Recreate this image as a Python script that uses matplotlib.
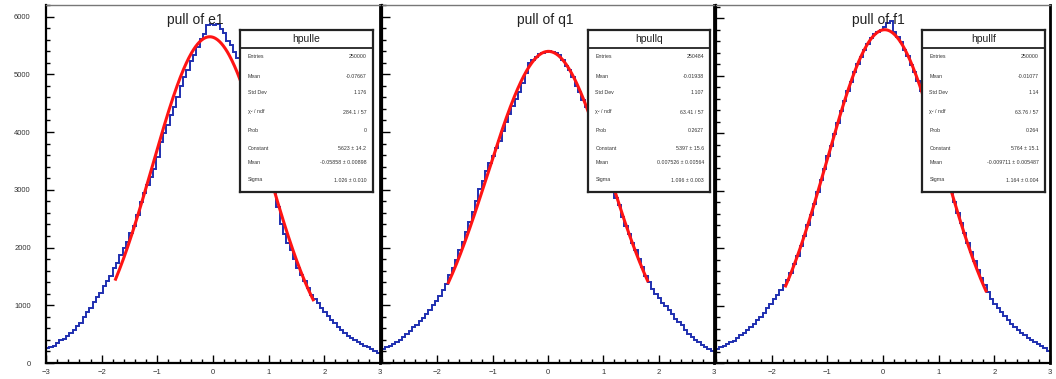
import numpy as np
import matplotlib.pyplot as plt

plt.rcParams['font.family'] = ['Liberation Sans', 'DejaVu Sans']

W, H = 1056, 379

# histogram contents, 100 bins on [-3, 3]
bin_edges = np.linspace(-3, 3, 101)

counts_e1 = [
    255, 280, 300, 350, 400, 420, 470, 520, 570, 640,
    700, 800, 880, 960, 1060, 1150, 1220, 1330, 1420, 1510,
    1640, 1740, 1870, 1990, 2100, 2260, 2380, 2560, 2780, 2940,
    3080, 3220, 3360, 3560, 3820, 3990, 4130, 4300, 4440, 4610,
    4800, 4950, 5080, 5230, 5330, 5480, 5610, 5700, 5860, 5870,
    5850, 5870, 5790, 5720, 5580, 5500, 5380, 5290, 5150, 4980,
    4820, 4650, 4450, 4250, 4020, 3800, 3560, 3230, 2960, 2700,
    2400, 2230, 2080, 1950, 1800, 1640, 1530, 1420, 1300, 1180,
    1110, 1040, 950, 890, 820, 740, 690, 630, 570, 520,
    470, 430, 390, 360, 330, 300, 275, 250, 210, 175,
]

counts_q1 = [
    235, 270, 300, 330, 370, 400, 450, 500, 560, 615,
    660, 720, 780, 840, 920, 1000, 1080, 1160, 1270, 1370,
    1520, 1640, 1780, 1960, 2100, 2270, 2450, 2620, 2810, 3010,
    3150, 3330, 3470, 3590, 3720, 3850, 4010, 4170, 4320, 4450,
    4570, 4700, 4850, 5020, 5190, 5240, 5300, 5350, 5370, 5380,
    5400, 5390, 5370, 5330, 5250, 5140, 5080, 4950, 4790, 4700,
    4560, 4440, 4280, 4120, 3960, 3790, 3600, 3420, 3230, 3050,
    2860, 2730, 2520, 2380, 2230, 2070, 1950, 1800, 1660, 1510,
    1400, 1290, 1200, 1130, 1040, 990, 910, 840, 770, 715,
    650, 580, 500, 445, 400, 360, 320, 285, 250, 215,
]

counts_f1 = [
    250, 275, 300, 330, 360, 390, 430, 480, 520, 570,
    620, 680, 740, 800, 870, 950, 1030, 1110, 1190, 1270,
    1360, 1450, 1570, 1720, 1870, 2030, 2210, 2400, 2580, 2760,
    2970, 3190, 3380, 3600, 3780, 3990, 4180, 4380, 4560, 4730,
    4890, 5070, 5200, 5330, 5450, 5560, 5650, 5720, 5760, 5800,
    5840, 5920, 5950, 5760, 5670, 5580, 5440, 5340, 5180, 5060,
    4900, 4740, 4560, 4380, 4190, 3990, 3790, 3580, 3380, 3180,
    2990, 2800, 2610, 2430, 2270, 2090, 1930, 1780, 1620, 1480,
    1350, 1230, 1120, 1020, 960, 880, 810, 740, 680, 630,
    580, 530, 480, 440, 400, 365, 330, 300, 260, 210,
]

titles = ['pull of e1', 'pull of q1', 'pull of f1']
hist_names = ['hpulle', 'hpullq', 'hpullf']

# gaussian fit results
fit_const = [5650, 5397, 5800]
fit_mean = [-0.05858, 0.007526, 0.03]
fit_sigma = [1.026, 1.098, 1.04]
fit_lo = [-1.75, -1.8, -1.75]
fit_hi = [1.8, 1.8, 1.85]

stat_labels = ['Entries', 'Mean', 'Std Dev', 'χ² / ndf', 'Prob',
               'Constant', 'Mean', 'Sigma']
stat_values = [
    ['250000', '-0.07667', '1.176', '284.1 / 57', '0',
     '5623 ± 14.2', '-0.05858 ± 0.00898', '1.026 ± 0.010'],
    ['250484', '-0.01938', '1.107', '63.41 / 57', '0.2627',
     '5397 ± 15.6', '0.007526 ± 0.00564', '1.096 ± 0.003'],
    ['250000', '-0.01077', '1.14', '63.76 / 57', '0.264',
     '5764 ± 15.1', '-0.009711 ± 0.005487', '1.164 ± 0.004'],
]

# layout in pixels (left, right) of each frame, and y range of each pad
pad_x = [(46, 380), (382, 714), (716, 1050)]
pad_top, pad_bot = 5, 363
pad_ymax = [6180, 5810, 6230]
box_x = [(240, 373), (588, 710), (922, 1045)]
box_top, box_bot = 30, 192
title_x = [195, 545, 878]

blue = '#1f2fb0'
red = '#ff1414'
txt = '#333333'

fig = plt.figure(figsize=(W / 100, H / 100), dpi=100)

for i in range(3):
    x0, x1 = pad_x[i]
    ax = fig.add_axes([x0 / W, 1 - pad_bot / H, (x1 - x0) / W, (pad_bot - pad_top) / H])
    counts = [counts_e1, counts_q1, counts_f1][i]
    ax.stairs(counts, bin_edges, color=blue, lw=1.4, baseline=None, zorder=2)

    xf = np.linspace(fit_lo[i], fit_hi[i], 300)
    yf = fit_const[i] * np.exp(-0.5 * ((xf - fit_mean[i]) / fit_sigma[i]) ** 2)
    ax.plot(xf, yf, color=red, lw=2.2, zorder=3)

    ax.set_xlim(-3, 3)
    ax.set_ylim(0, pad_ymax[i])
    ax.set_xticks(range(-3, 4) if i == 0 else range(-2, 4))
    ax.set_xticks(np.arange(-3, 3.01, 0.2), minor=True)
    ax.set_yticks(range(0, 6001, 1000))
    ax.set_yticks(range(0, 6201, 200), minor=True)
    ax.tick_params(which='both', direction='in', colors='black', labelcolor=txt,
                   labelsize=5.5, width=1)
    ax.tick_params(which='major', length=6)
    ax.tick_params(which='minor', length=3)
    ax.tick_params(axis='x', pad=4)
    ax.tick_params(axis='y', pad=11)
    if i > 0:
        ax.set_yticklabels([])
    for s in ['left', 'bottom']:
        ax.spines[s].set_linewidth(1.6)
    ax.spines['right'].set_linewidth(2.0)
    ax.spines['top'].set_color('#777777')
    ax.spines['top'].set_linewidth(1.0)

    fig.text(title_x[i] / W, 1 - 20 / H, titles[i], ha='center', va='center',
             fontsize=10, color='#222222', zorder=5)

    # stat box
    bx0, bx1 = box_x[i]
    bax = fig.add_axes([bx0 / W, 1 - box_bot / H, (bx1 - bx0) / W, (box_bot - box_top) / H])
    bax.set_xlim(0, 1)
    bax.set_ylim(box_bot, box_top)
    bax.set_xticks([])
    bax.set_yticks([])
    bax.set_facecolor('white')
    for s in bax.spines.values():
        s.set_linewidth(1.6)
        s.set_color('#222222')
    bax.axhline(48, color='#222222', lw=1.3)
    bax.text(0.5, 39.5, hist_names[i], ha='center', va='center', fontsize=7.5,
             color='#222222')
    row_y = [57, 76, 93, 112, 130, 148, 162, 180]
    for lab, val, yy in zip(stat_labels, stat_values[i], row_y):
        bax.text(0.06, yy, lab, ha='left', va='center', fontsize=3.8, color=txt)
        bax.text(0.95, yy, val, ha='right', va='center', fontsize=3.8, color=txt)

fig.savefig('out.png', dpi=100)
